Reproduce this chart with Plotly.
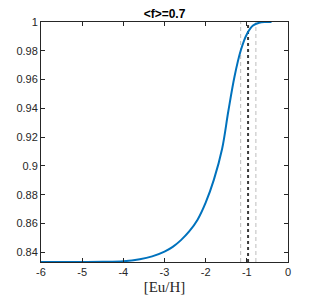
import plotly.graph_objects as go

feh = [-6, -5, -4.5, -4, -3.6, -3.3, -3.0, -2.8, -2.6, -2.4, -2.2, -2.0, -1.8,
       -1.6, -1.45, -1.3, -1.15, -1.0, -0.85, -0.7, -0.55, -0.4]
frac = [0.8333, 0.8333, 0.8334, 0.8338, 0.8352, 0.8372, 0.8405, 0.8438, 0.8485,
        0.8545, 0.8625, 0.8745, 0.8905, 0.912, 0.938, 0.962, 0.980, 0.9915, 0.9975,
        0.9995, 1.0, 1.0]
median_x = -0.97
band_x = [-1.15, -0.78]
x_ticks = [-6, -5, -4, -3, -2, -1, 0]
y_ticks = [0.84, 0.86, 0.88, 0.9, 0.92, 0.94, 0.96, 0.98, 1]
y_min, y_max = 0.8333, 1.0

fig = go.Figure()
for bx in band_x:
    fig.add_trace(go.Scatter(x=[bx, bx], y=[y_min, y_max], mode="lines",
                             line=dict(color="#bdbdbd", width=1, dash="4px,3px"),
                             showlegend=False, hoverinfo="skip"))
fig.add_trace(go.Scatter(x=[median_x, median_x], y=[y_min, y_max], mode="lines",
                         line=dict(color="#3a3a3a", width=2, dash="3px,3px"),
                         showlegend=False, hoverinfo="skip"))
fig.add_trace(go.Scatter(x=feh, y=frac, mode="lines", line_shape="spline",
                         line=dict(color="#0072BD", width=2), showlegend=False))

axis_common = dict(showgrid=False, zeroline=False, showline=True, mirror="ticks",
                   automargin=False,
                   linecolor="#262626", linewidth=1, ticks="inside", ticklen=4,
                   tickcolor="#262626", tickfont=dict(family="Liberation Sans", size=11, color="#262626"))
fig.update_xaxes(range=[-6, 0], tickvals=x_ticks, ticktext=[str(t) for t in x_ticks],
                 title=dict(text="[Eu/H]", font=dict(family="Liberation Serif", size=15, color="#262626"), standoff=4),
                 **axis_common)
fig.update_yaxes(range=[y_min, y_max], tickvals=y_ticks, ticktext=[f"{t:g}" for t in y_ticks],
                 **axis_common)
fig.update_layout(template="none", width=310, height=292, margin=dict(l=33, r=30, t=14, b=38),
                  paper_bgcolor="white", plot_bgcolor="white",
                  title=dict(text="<b>&lt;f&gt;=0.7</b>", x=0.5, xanchor="center", xref="paper",
                             y=0.979, yanchor="middle",
                             font=dict(family="Liberation Sans", size=12, color="#000000")))
fig.write_html("out.html")
